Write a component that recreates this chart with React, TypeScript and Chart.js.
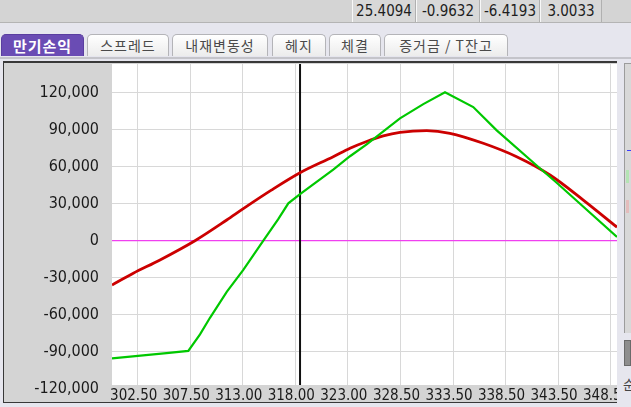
import React, { useEffect, useRef } from 'react';
import { Chart, registerables } from 'chart.js';

Chart.register(...registerables);

// ---- data ----
const xTickValues = [302.5, 307.61, 312.72, 317.83, 322.94, 328.06, 333.17, 338.28, 343.39, 348.5];
const xTickLabels = ['302.50', '307.50', '313.00', '318.00', '323.00', '328.50', '333.50', '338.50', '343.50', '348.50'];
const yTickValues = [120000, 90000, 60000, 30000, 0, -30000, -60000, -90000, -120000];

// 만기손익 (expiry P/L, green)
const expiryX = [300.0, 305.3, 307.42, 308.56, 309.53, 311.16, 312.77, 314.72, 316.17, 317.15, 318.29, 321.52, 323.15, 324.77, 328.01, 330.28, 332.39, 335.14, 337.42, 341.31, 343.25, 349.12];
const expiryPL = [-95350, -91200, -89400, -76000, -62500, -41500, -23700, 0, 17500, 30300, 37800, 57700, 68500, 78200, 99200, 110800, 120300, 108400, 89500, 61000, 47000, 3000];

// 현재 이론손익 (red)
const currentX = [300.0, 302.07, 304.67, 308.07, 311.16, 312.77, 315.5, 318.29, 321.52, 323.15, 324.77, 326.39, 328.01, 330.61, 332.87, 336.11, 339.36, 342.6, 345.84, 349.12];
const currentPL = [-35900, -26400, -15600, 0, 16800, 26000, 41000, 55100, 68100, 75000, 80500, 85000, 87800, 89200, 87100, 79000, 68100, 53300, 33000, 11000];

const underlyingPrice = 318.29;
const xMin = 300.0;
const xMax = 349.12;
const yMin = -117000;
const yMax = 143300;

const topValues = ['25.4094', '-0.9632', '-6.4193', '3.0033'];
const tabs = ['만기손익', '스프레드', '내재변동성', '헤지', '체결', '증거금 / T잔고'];

// ---- layout / style ----
const NARROW = '"Liberation Sans Narrow", "Arial Narrow", "DejaVu Sans Condensed", "Liberation Sans", sans-serif';
const KR = '"Noto Sans CJK KR", "Noto Sans", sans-serif';
const topCells = [
  [352, 64], [416, 64], [480, 60], [540, 62],
];
const tabBoxes = [
  [1, 83], [87, 82], [172, 96], [272, 54], [329, 52], [384, 124],
];

const bgPlugin = {
  id: 'plotBg',
  beforeDraw(chart: any) {
    const { ctx, chartArea: a } = chart;
    ctx.save();
    ctx.fillStyle = '#ffffff';
    ctx.fillRect(a.left, a.top, a.right - a.left, a.bottom - a.top);
    ctx.restore();
  },
};

function PLChart() {
  const ref = useRef<HTMLCanvasElement | null>(null);
  useEffect(() => {
    if (!ref.current) return;
    const chart = new Chart(ref.current, {
      type: 'line',
      data: {
        datasets: [
          {
            data: expiryX.map((x, i) => ({ x, y: expiryPL[i] })),
            borderColor: '#00c800',
            borderWidth: 2.2,
            pointRadius: 0,
            tension: 0,
          },
          {
            data: currentX.map((x, i) => ({ x, y: currentPL[i] })),
            borderColor: '#cc0000',
            borderWidth: 2.8,
            pointRadius: 0,
            cubicInterpolationMode: 'monotone',
          },
          {
            data: [
              { x: underlyingPrice, y: yMin - 50000 },
              { x: underlyingPrice, y: yMax + 50000 },
            ],
            borderColor: '#101010',
            borderWidth: 2,
            pointRadius: 0,
          },
          {
            data: [
              { x: xMin - 5, y: 0 },
              { x: xMax + 5, y: 0 },
            ],
            borderColor: '#f040f0',
            borderWidth: 1.2,
            pointRadius: 0,
          },
        ] as any,
      },
      options: {
        animation: false,
        responsive: false,
        maintainAspectRatio: false,
        events: [],
        layout: { padding: { top: 1, right: 0, left: 0, bottom: 0 } },
        plugins: { legend: { display: false }, tooltip: { enabled: false } },
        scales: {
          x: {
            type: 'linear',
            min: xMin,
            max: xMax,
            afterBuildTicks: (s: any) => {
              s.ticks = xTickValues.map((v) => ({ value: v }));
            },
            afterFit: (s: any) => {
              s.height = 17;
              s.paddingLeft = 0;
              s.paddingRight = 0;
            },
            grid: { color: '#d8d8d8', lineWidth: 1, drawTicks: false },
            border: { display: false },
            ticks: {
              autoSkip: false,
              maxRotation: 0,
              minRotation: 0,
              padding: 2,
              labelOffset: -4,
              color: '#1a1a1a',
              font: { family: NARROW, size: 15 },
              callback: (_v: any, i: number) => xTickLabels[i],
            },
          },
          y: {
            type: 'linear',
            min: yMin,
            max: yMax,
            afterBuildTicks: (s: any) => {
              s.ticks = yTickValues.map((v) => ({ value: v }));
            },
            afterFit: (s: any) => {
              s.width = 108;
              s.paddingTop = 0;
              s.paddingBottom = 0;
            },
            grid: {
              color: (c: any) => (c.tick && c.tick.value < yMin ? 'rgba(0,0,0,0)' : '#d8d8d8'),
              lineWidth: 1,
              drawTicks: false,
            },
            border: { display: false },
            ticks: {
              autoSkip: false,
              padding: 13,
              color: '#1a1a1a',
              font: { family: NARROW, size: 16 },
              callback: (v: any) => Number(v).toLocaleString('en-US'),
            },
          },
        },
      } as any,
      plugins: [bgPlugin],
    });
    return () => chart.destroy();
  }, []);
  return (
    <canvas
      ref={ref}
      width={613}
      height={339}
      style={{ position: 'absolute', left: 4, top: 63, width: 613, height: 339, background: '#d4d4d4' }}
    />
  );
}

export default function App() {
  return (
    <div
      style={{
        position: 'fixed',
        left: 0,
        top: 0,
        width: 631,
        height: 407,
        overflow: 'hidden',
        background: '#e6e6ee',
      }}
    >
      {/* top status bar */}
      <div
        style={{
          position: 'absolute',
          left: 0,
          top: 0,
          width: 631,
          height: 23,
          background: '#d4d4d4',
          borderBottom: '1px solid #b4b4b4',
          boxSizing: 'border-box',
        }}
      />
      {topValues.map((t, i) => {
        const [l, w] = topCells[i];
        return (
          <div
            key={t}
            style={{
              position: 'absolute',
              left: l,
              top: 0,
              width: w,
              height: 22,
              boxSizing: 'border-box',
              borderLeft: '1px solid #f8f8f8',
              borderRight: '1px solid #b0b0b0',
              background: '#d8d8d8',
              lineHeight: '23px',
              textAlign: 'center',
              fontFamily: NARROW,
              fontSize: 15,
              color: '#1e1e1e',
              whiteSpace: 'nowrap',
            }}
          >
            {t}
          </div>
        );
      })}

      {/* tabs */}
      {tabs.map((t, i) => {
        const [l, w] = tabBoxes[i];
        const active = i === 0;
        return (
          <div
            key={t}
            style={{
              position: 'absolute',
              left: l,
              top: 34,
              width: w,
              height: 22,
              boxSizing: 'border-box',
              borderRadius: '5px 5px 0 0',
              border: active ? '1px solid #5a3ea0' : '1px solid #b4b4b8',
              borderBottom: 'none',
              background: active ? '#6a4cb4' : 'linear-gradient(#ffffff, #ececec)',
              color: active ? '#ffffff' : '#4a4a4a',
              fontFamily: KR,
              fontWeight: active ? 700 : 400,
              fontSize: active ? 15 : 14,
              letterSpacing: 1,
              lineHeight: '21px',
              textAlign: 'center',
              whiteSpace: 'nowrap',
            }}
          >
            {t}
          </div>
        );
      })}
      <div style={{ position: 'absolute', left: 0, top: 57, width: 631, height: 2, background: '#c4c4ca' }} />

      {/* chart frame */}
      <div
        style={{
          position: 'absolute',
          left: 3,
          top: 61,
          width: 614,
          height: 342,
          boxSizing: 'border-box',
          borderTop: '2px solid #383838',
          borderLeft: '1px solid #383838',
          borderBottom: '1px solid #383838',
          background: '#d4d4d4',
        }}
      />
      <PLChart />

      {/* right side panel */}
      <div
        style={{
          position: 'absolute',
          left: 624,
          top: 63,
          width: 7,
          height: 270,
          boxSizing: 'border-box',
          background: '#d8d8d8',
          borderLeft: '1px solid #9c9c9c',
          borderTop: '1px solid #9c9c9c',
        }}
      />
      <div style={{ position: 'absolute', left: 627, top: 150, width: 4, height: 1, background: '#3c3cff' }} />
      <div style={{ position: 'absolute', left: 626, top: 170, width: 3, height: 13, background: '#b4e4b4' }} />
      <div style={{ position: 'absolute', left: 626, top: 200, width: 3, height: 13, background: '#e4bcbc' }} />
      <div
        style={{
          position: 'absolute',
          left: 624,
          top: 340,
          width: 7,
          height: 26,
          boxSizing: 'border-box',
          background: '#8e8e8e',
          border: '1px solid #6a6a6a',
        }}
      />
      <div
        style={{
          position: 'absolute',
          left: 623,
          top: 376,
          fontFamily: KR,
          fontSize: 13,
          color: '#444',
          lineHeight: '16px',
        }}
      >
        순
      </div>
    </div>
  );
}
